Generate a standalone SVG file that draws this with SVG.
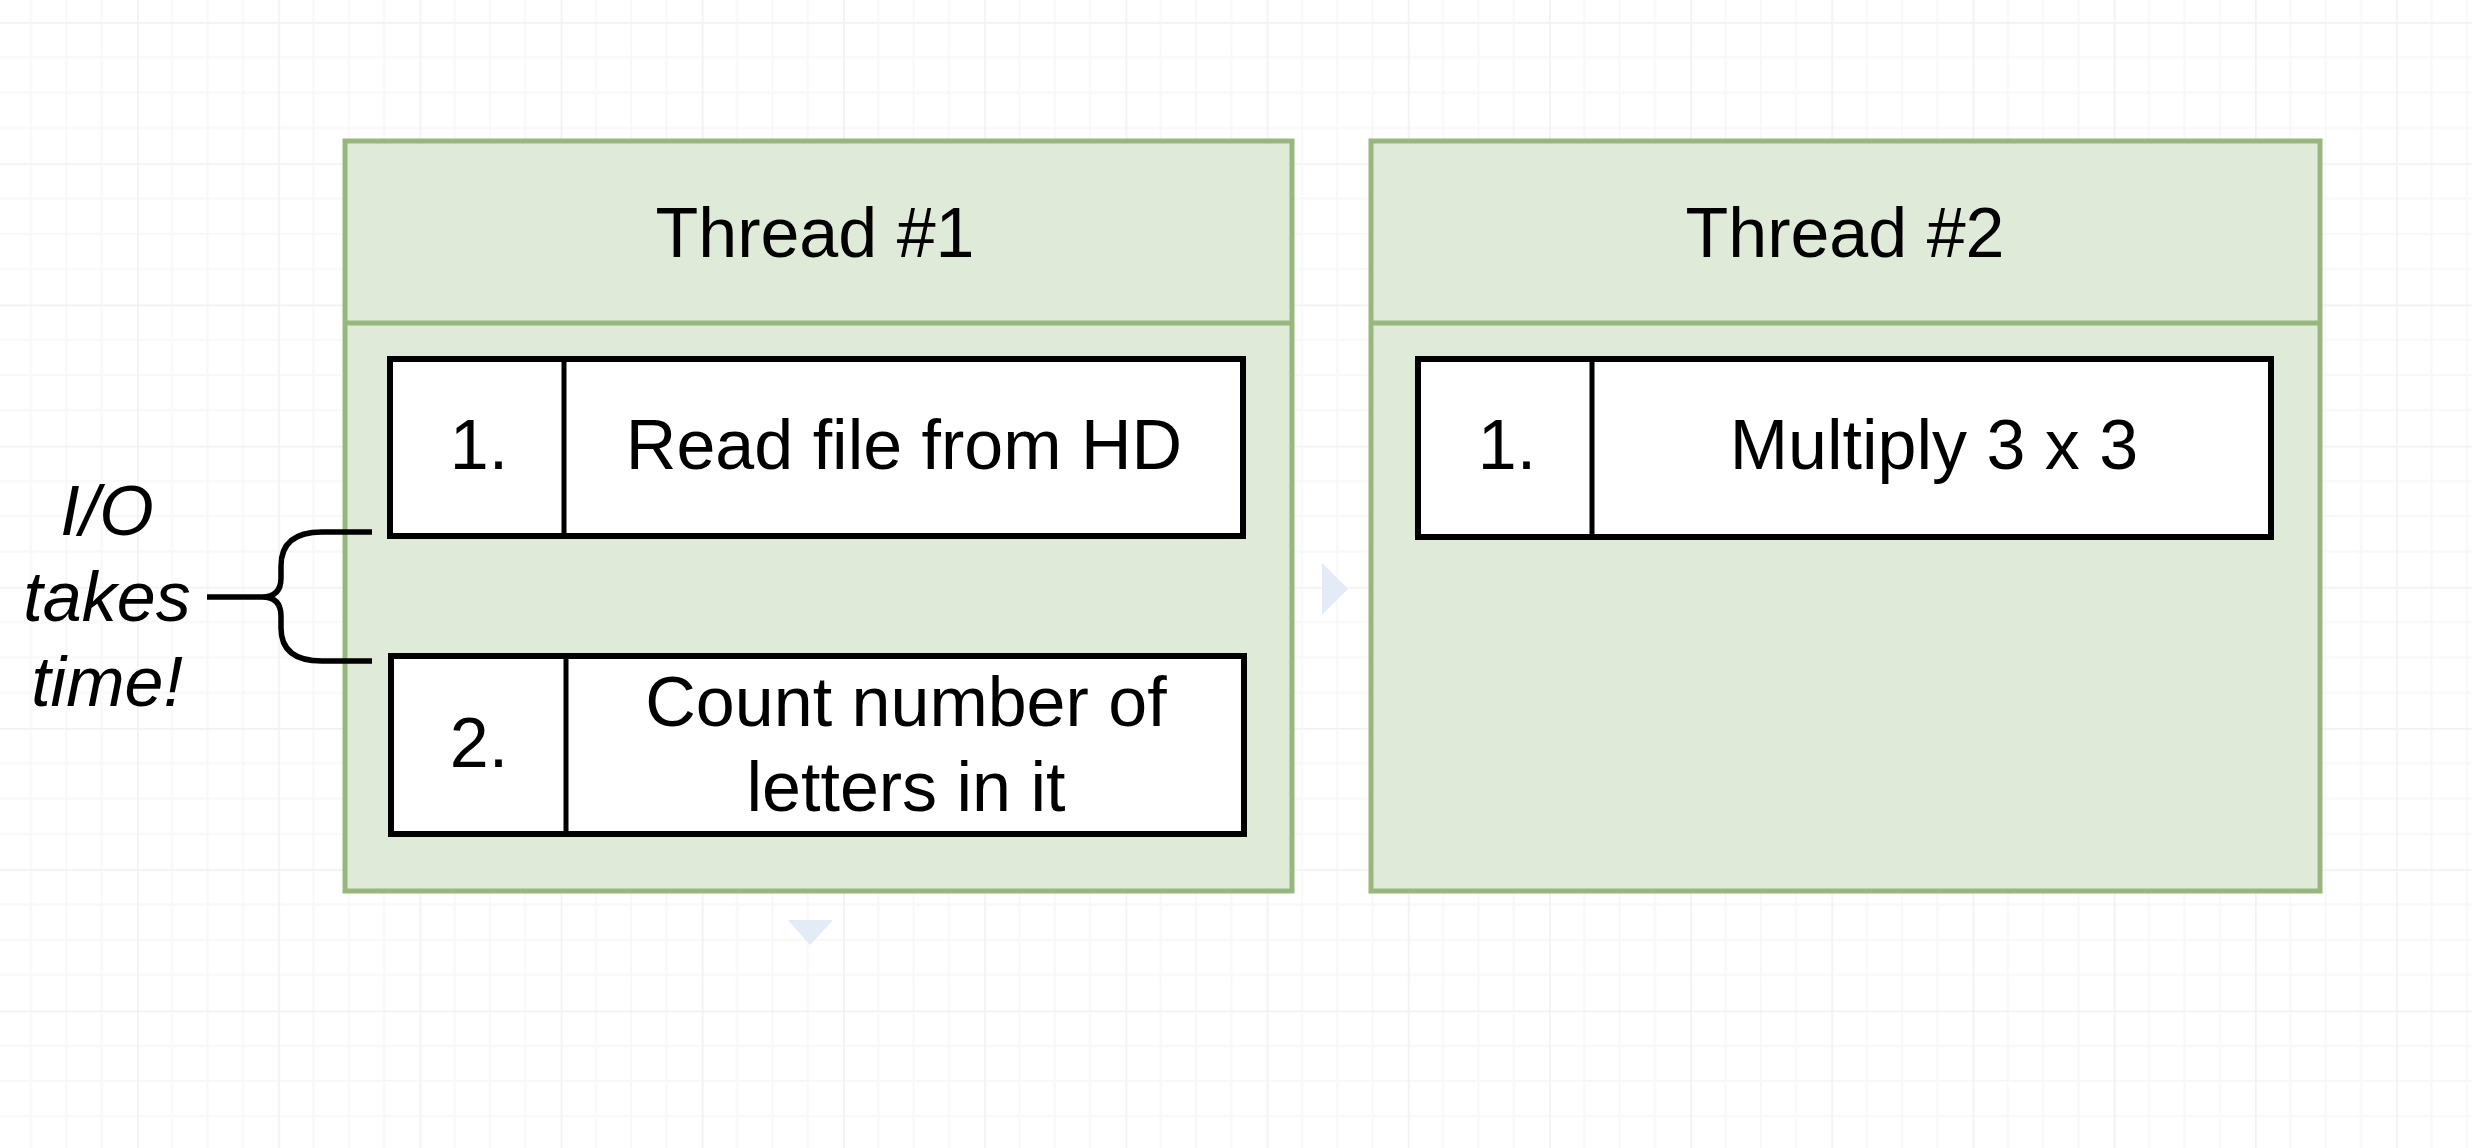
<svg xmlns="http://www.w3.org/2000/svg" width="2472" height="1148" viewBox="0 0 2472 1148">
<style>
.thread{fill:#dfebd8;stroke:#98b77f;stroke-width:5}
.step{fill:#ffffff;stroke:#000000;stroke-width:6}
.t{font-family:"Liberation Sans",Arial,sans-serif;font-size:70px;fill:#000000;text-anchor:middle}
.it{font-style:italic}
.brace{fill:none;stroke:#000000;stroke-width:5.5;stroke-linecap:butt}
.hint{fill:#e3ebf7}
</style>
<defs>
<pattern id="grid" patternUnits="userSpaceOnUse" x="137" y="22" width="141.2" height="141.2">
<path d="M35.3 0V141.2M70.6 0V141.2M105.9 0V141.2M0 35.3H141.2M0 70.6H141.2M0 105.9H141.2" stroke="#f8f8f8" stroke-width="2" fill="none"/>
<path d="M0.5 0V141.2M0 0.5H141.2" stroke="#f2f2f2" stroke-width="2.5" fill="none"/>
</pattern>
</defs>
<rect width="2472" height="1148" fill="#ffffff"/>
<rect width="2472" height="1148" fill="url(#grid)"/>

<g id="thread1">
<rect class="thread" x="345" y="141" width="947" height="750"/>
<line x1="345" y1="323" x2="1292" y2="323" stroke="#98b77f" stroke-width="5"/>
<text class="t" x="815" y="257">Thread #1</text>
</g>

<g id="t1-step1">
<rect class="step" x="390" y="359" width="853" height="177"/>
<line x1="564" y1="359" x2="564" y2="536" stroke="#000" stroke-width="5"/>
<text class="t" x="479" y="469">1.</text>
<text class="t" x="904" y="469">Read file from HD</text>
</g>

<g id="t1-step2">
<rect class="step" x="391" y="656" width="853" height="178"/>
<line x1="566" y1="656" x2="566" y2="834" stroke="#000" stroke-width="5"/>
<text class="t" x="479" y="767">2.</text>
<text class="t" x="906" y="726">Count number of</text>
<text class="t" x="906" y="811">letters in it</text>
</g>

<g id="thread2">
<rect class="thread" x="1371" y="141" width="949" height="750"/>
<line x1="1371" y1="323" x2="2320" y2="323" stroke="#98b77f" stroke-width="5"/>
<text class="t" x="1845" y="257">Thread #2</text>
</g>

<g id="t2-step1">
<rect class="step" x="1418" y="359" width="853" height="178"/>
<line x1="1592" y1="359" x2="1592" y2="537" stroke="#000" stroke-width="5"/>
<text class="t" x="1507" y="469">1.</text>
<text class="t" x="1934" y="469">Multiply 3 x 3</text>
</g>

<g id="io-note">
<text class="t it" x="107" y="535">I/O</text>
<text class="t it" x="107" y="621">takes</text>
<text class="t it" x="107" y="706">time!</text>
</g>

<g id="connectors">
<path class="brace" d="M372 532 L322 532 Q281 532 281 566 L281 578 Q281 597 262 597 L207 597 M262 597 Q281 597 281 616 L281 628 Q281 661 322 661 L372 661"/>
</g>

<g id="hints">
<polygon class="hint" points="1322,563 1348,589 1322,615"/>
<polygon class="hint" points="788,920 833,920 810,945"/>
</g>
</svg>
